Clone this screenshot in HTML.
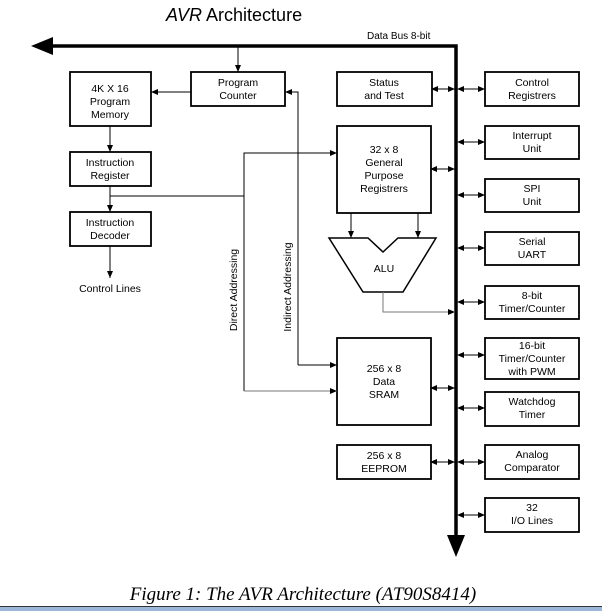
<!DOCTYPE html>
<html><head><meta charset="utf-8"><style>
html,body{margin:0;padding:0;background:#fff;width:602px;height:611px;overflow:hidden}
svg{display:block}
text{font-family:"Liberation Sans",sans-serif;font-size:10.5px;fill:#000}
</style></head><body>
<svg width="602" height="611" viewBox="0 0 602 611" xmlns="http://www.w3.org/2000/svg">
<defs>
<marker id="a" markerWidth="8" markerHeight="8" refX="7" refY="4" orient="auto" markerUnits="userSpaceOnUse"><path d="M0,1 L7,4 L0,7 z" fill="#000"/></marker>
<marker id="b" markerWidth="8" markerHeight="8" refX="1" refY="4" orient="auto" markerUnits="userSpaceOnUse"><path d="M7,1 L0,4 L7,7 z" fill="#000"/></marker>
</defs>
<text x="166" y="21" style="font-size:18px"><tspan font-style="italic">AVR</tspan> Architecture</text>
<text x="367" y="39" style="font-size:10px">Data Bus 8-bit</text>
<path d="M48,46 H456 V540" stroke="#000" stroke-width="3.5" fill="none"/>
<path d="M31,46 L53,37 L53,55 z" fill="#000"/>
<path d="M447,535 L465,535 L456,557 z" fill="#000"/>
<g fill="none" stroke="#000" stroke-width="1.8">
<rect x="70" y="72" width="81" height="54"/>
<rect x="191" y="72" width="94" height="34"/>
<rect x="70" y="152" width="81" height="34"/>
<rect x="70" y="212" width="81" height="34"/>
<rect x="337" y="72" width="95" height="34"/>
<rect x="337" y="126" width="94" height="87"/>
<rect x="337" y="338" width="94" height="87"/>
<rect x="337" y="445" width="94" height="34"/>
<rect x="485" y="72" width="94" height="34"/>
<rect x="485" y="126" width="94" height="33"/>
<rect x="485" y="179" width="94" height="33"/>
<rect x="485" y="232" width="94" height="33"/>
<rect x="485" y="286" width="94" height="33"/>
<rect x="485" y="338" width="94" height="41"/>
<rect x="485" y="392" width="94" height="34"/>
<rect x="485" y="445" width="94" height="34"/>
<rect x="485" y="498" width="94" height="34"/>
<path d="M329,238 H368 L383,252 L398,238 H436 L403,292 H363 z" stroke-width="1.5"/>
</g>
<g fill="none" stroke="#000" stroke-width="1">
<line x1="238" y1="46" x2="238" y2="72" marker-end="url(#a)"/>
<line x1="191" y1="92" x2="151" y2="92" marker-end="url(#a)"/>
<line x1="110" y1="126" x2="110" y2="152" marker-end="url(#a)"/>
<line x1="110" y1="186" x2="110" y2="212" marker-end="url(#a)"/>
<line x1="110" y1="246" x2="110" y2="278" marker-end="url(#a)"/>
<path d="M110,196 H244"/>
<path d="M244,391 V153 H337" marker-end="url(#a)"/>
<path d="M244,391 H337" stroke="#777" marker-end="url(#a)"/>
<path d="M298,365 V92 H285" marker-end="url(#a)"/>
<path d="M298,365 H337" marker-end="url(#a)"/>
<line x1="351" y1="213" x2="351" y2="238" marker-end="url(#a)"/>
<line x1="418" y1="213" x2="418" y2="238" marker-end="url(#a)"/>
<path d="M383,292 V312 H455" stroke="#777" marker-end="url(#a)"/>
<line x1="432" y1="89" x2="455" y2="89" marker-start="url(#b)" marker-end="url(#a)"/>
<line x1="431" y1="169" x2="455" y2="169" marker-start="url(#b)" marker-end="url(#a)"/>
<line x1="431" y1="388" x2="455" y2="388" marker-start="url(#b)" marker-end="url(#a)"/>
<line x1="431" y1="462" x2="455" y2="462" marker-start="url(#b)" marker-end="url(#a)"/>
<line x1="458" y1="89" x2="485" y2="89" marker-start="url(#b)" marker-end="url(#a)"/>
<line x1="458" y1="142" x2="485" y2="142" marker-start="url(#b)" marker-end="url(#a)"/>
<line x1="458" y1="195" x2="485" y2="195" marker-start="url(#b)" marker-end="url(#a)"/>
<line x1="458" y1="248" x2="485" y2="248" marker-start="url(#b)" marker-end="url(#a)"/>
<line x1="458" y1="302" x2="485" y2="302" marker-start="url(#b)" marker-end="url(#a)"/>
<line x1="458" y1="355" x2="485" y2="355" marker-start="url(#b)" marker-end="url(#a)"/>
<line x1="458" y1="408" x2="485" y2="408" marker-start="url(#b)" marker-end="url(#a)"/>
<line x1="458" y1="462" x2="485" y2="462" marker-start="url(#b)" marker-end="url(#a)"/>
<line x1="458" y1="515" x2="485" y2="515" marker-start="url(#b)" marker-end="url(#a)"/>
</g>
<g text-anchor="middle">
<text x="110" y="92">4K X 16</text><text x="110" y="105">Program</text><text x="110" y="118">Memory</text>
<text x="238" y="86">Program</text><text x="238" y="99">Counter</text>
<text x="110" y="166">Instruction</text><text x="110" y="179">Register</text>
<text x="110" y="226">Instruction</text><text x="110" y="239">Decoder</text>
<text x="110" y="292">Control Lines</text>
<text x="384" y="86">Status</text><text x="384" y="99">and Test</text>
<text x="384" y="153">32 x 8</text><text x="384" y="166">General</text><text x="384" y="179">Purpose</text><text x="384" y="192">Registrers</text>
<text x="384" y="272">ALU</text>
<text x="384" y="372">256 x 8</text><text x="384" y="385">Data</text><text x="384" y="398">SRAM</text>
<text x="384" y="459">256 x 8</text><text x="384" y="472">EEPROM</text>
<text x="532" y="86">Control</text><text x="532" y="99">Registrers</text>
<text x="532" y="139">Interrupt</text><text x="532" y="152">Unit</text>
<text x="532" y="192">SPI</text><text x="532" y="205">Unit</text>
<text x="532" y="245">Serial</text><text x="532" y="258">UART</text>
<text x="532" y="299">8-bit</text><text x="532" y="312">Timer/Counter</text>
<text x="532" y="349">16-bit</text><text x="532" y="362">Timer/Counter</text><text x="532" y="375">with PWM</text>
<text x="532" y="405">Watchdog</text><text x="532" y="418">Timer</text>
<text x="532" y="458">Analog</text><text x="532" y="471">Comparator</text>
<text x="532" y="511">32</text><text x="532" y="524">I/O Lines</text>
<text transform="translate(237,290) rotate(-90)">Direct Addressing</text>
<text transform="translate(291,287) rotate(-90)">Indirect Addressing</text>
<text x="303" y="600" style="font-family:'Liberation Serif',serif;font-style:italic;font-size:19px">Figure 1: The AVR Architecture (AT90S8414)</text>
</g>
<rect x="0" y="606" width="602" height="1" fill="#333"/>
<rect x="0" y="607" width="602" height="4" fill="#9bb8d8"/>
</svg>
</body></html>
